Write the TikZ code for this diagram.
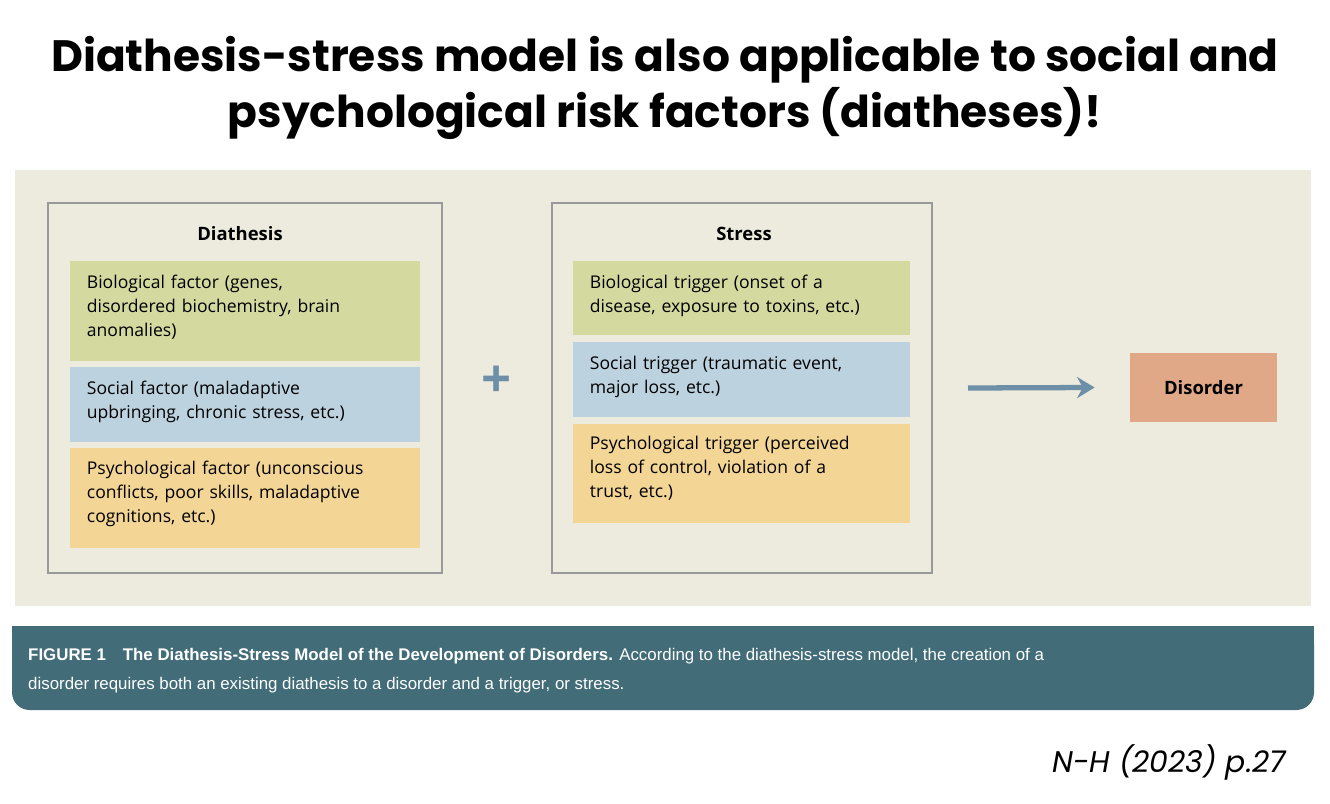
\documentclass[tikz,border=0pt]{standalone}
\usepackage{fontspec}
\setmainfont{Open Sans}
\newfontfamily\titlefont{Poppins}
\newfontfamily\capfont{Liberation Sans}
\usetikzlibrary{positioning,arrows.meta}
\definecolor{panelbg}{HTML}{EDEBDD}
\definecolor{biogreen}{HTML}{D4D99F}
\definecolor{socblue}{HTML}{BDD2DF}
\definecolor{psyyellow}{HTML}{F3D596}
\definecolor{disorange}{HTML}{E0A886}
\definecolor{steel}{HTML}{6E8FA8}
\definecolor{capteal}{HTML}{416C78}
\tikzset{
  frame/.style = {draw=gray!80, line width=1.2pt},
  factor/.style = {anchor=north west, inner xsep=6pt, inner ysep=0pt,
    text width=#1, align=left, font=\fontsize{10}{13.5}\selectfont},
  heading/.style = {font=\fontsize{10.5}{12}\selectfont\bfseries}
}
\begin{document}
\begin{tikzpicture}[x=0.02cm, y=-0.02cm]
  \useasboundingbox (0,0) rectangle (1330,804);
  \node[font=\titlefont\fontsize{25}{32}\selectfont\bfseries, align=center] (title) at (665,88)
    {Diathesis-stress model is also applicable to social and\\psychological risk factors (diatheses)!};
  \fill[panelbg] (15,170) rectangle (1311,606);
  % diathesis column
  \draw[frame] (48,203) rectangle (442,573);
  \node[heading] (diathesis) at (240,234) {Diathesis};
  \fill[biogreen] (70,261) rectangle (420,361);
  \fill[socblue] (70,367) rectangle (420,442);
  \fill[psyyellow] (70,448) rectangle (420,548);
  \node[factor=6.7cm] (biofactor) at (76,275) {Biological factor (genes,\\disordered biochemistry, brain\\anomalies)};
  \node[factor=6.7cm] (socfactor) at (76,381) {Social factor (maladaptive\\upbringing, chronic stress, etc.)};
  \node[factor=6.7cm] (psyfactor) at (76,461) {Psychological factor (unconscious\\conflicts, poor skills, maladaptive\\cognitions, etc.)};
  % stress column
  \draw[frame] (552,203) rectangle (932,573);
  \node[heading] (stress) at (744,234) {Stress};
  \fill[biogreen] (573,261) rectangle (910,335);
  \fill[socblue] (573,342) rectangle (910,417);
  \fill[psyyellow] (573,424) rectangle (910,523);
  \node[factor=6.5cm] (biotrigger) at (579,275) {Biological trigger (onset of a\\disease, exposure to toxins, etc.)};
  \node[factor=6.5cm] (soctrigger) at (579,356) {Social trigger (traumatic event,\\major loss, etc.)};
  \node[factor=6.5cm] (psytrigger) at (579,436) {Psychological trigger (perceived\\loss of control, violation of a\\trust, etc.)};
  \node[text=steel, font=\fontsize{30}{30}\selectfont\bfseries] (plus) at (497,382) {+};
  % outcome
  \node[fill=disorange, minimum width=2.94cm, minimum height=1.38cm,
    font=\fontsize{10.5}{12}\selectfont\bfseries] (disorder) at (1203.5,387.5) {Disorder};
  \coordinate (arrowstart) at (968,388);
  \draw[steel, line width=3pt, -{Stealth[length=10pt,width=12pt]}] (arrowstart) -- ([xshift=-0.7cm]disorder.west);
  % caption
  \fill[capteal, rounded corners=10pt] (12,626) rectangle (1314,710);
  \fill[capteal] (12,626) rectangle (1314,650);
  \node[anchor=west, text=white, font=\capfont\fontsize{9.6}{16.5}\selectfont, align=left] (caption) at (22,671)
    {\textbf{FIGURE 1\quad The Diathesis-Stress Model of the Development of Disorders.} According to the diathesis-stress model, the creation of a\\disorder requires both an existing diathesis to a disorder and a trigger, or stress.};
  \node[anchor=east, font=\titlefont\fontsize{17}{20}\selectfont\itshape] (source) at (1292,762) {N-H (2023) p.27};
\end{tikzpicture}
\end{document}
